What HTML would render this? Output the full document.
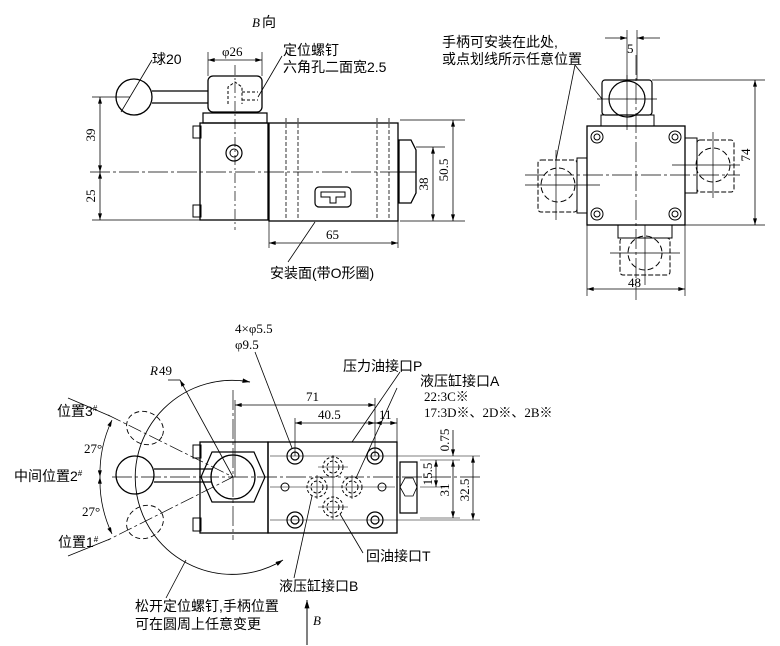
<!DOCTYPE html>
<html><head><meta charset="utf-8"><style>
body{margin:0;background:#fff}
svg{display:block}
text{font-family:"Liberation Serif","Noto Sans CJK SC",serif;font-size:13px;fill:#000}
.c{font-family:"Liberation Sans","Noto Sans CJK SC",sans-serif;font-size:14px}
</style></head><body>
<svg width="780" height="646" viewBox="0 0 780 646" xmlns="http://www.w3.org/2000/svg">
<defs>
<marker id="a" viewBox="0 0 10 6" refX="10" refY="3" markerWidth="9" markerHeight="5" orient="auto-start-reverse"><path d="M0,0 L10,3 L0,6z" fill="#000"/></marker>
</defs>
<g fill="none" stroke="#000" stroke-width="1">
<line x1="90" y1="172" x2="410" y2="172" stroke-dasharray="20,3,3,3" stroke-width="0.8"/>
<circle cx="134" cy="97" r="18" stroke-width="1.3"/>
<line x1="121" y1="112" x2="152" y2="60" stroke-width="0.8"/>
<path d="M152,91 H208 M152,103 H208" stroke-width="1.3"/>
<rect x="208" y="76" width="54" height="36" rx="5" stroke-width="1.3"/>
<line x1="235" y1="65" x2="235" y2="230" stroke-dasharray="10,3,2,3" stroke-width="0.7"/>
<path d="M228,104 V87 L235,82 L242,87 V104 M242,92 H258 M242,100 H258" stroke-dasharray="3,2"/>
<path d="M203,113 H267 V123 H203 Z" stroke-width="1.2"/>
<line x1="208" y1="52" x2="208" y2="76" stroke-width="0.7"/>
<line x1="262" y1="52" x2="262" y2="76" stroke-width="0.7"/>
<line x1="208" y1="60" x2="262" y2="60" marker-start="url(#a)" marker-end="url(#a)" stroke-width="0.8"/>
<line x1="258" y1="97" x2="282" y2="56" stroke-width="0.8"/>
<rect x="200" y="123" width="68" height="97" stroke-width="1.3"/>
<rect x="269" y="123" width="129" height="98" stroke-width="1.3"/>
<rect x="193" y="126" width="8" height="12"/>
<rect x="193" y="205" width="8" height="12"/>
<circle cx="234" cy="153" r="8" stroke-width="1.2"/><circle cx="234" cy="153" r="4"/>
<path d="M399,140 H411 L416,150 V193 L411,203 H399 Z" stroke-width="1.3"/>
<line x1="399" y1="172" x2="416" y2="172"/>
<path d="M286,118 V220 M298,118 V220 M377,118 V220 M389,118 V220" stroke-dasharray="4,2" stroke-width="0.8"/>
<rect x="315" y="187" width="36" height="20" rx="4" stroke-width="1.2"/>
<path d="M321,192 H345 V197 H336 V203 H330 V197 H321 Z"/>
<path d="M92,97 H130 M92,220 H200" stroke-width="0.7"/>
<line x1="100" y1="97" x2="100" y2="172" marker-start="url(#a)" marker-end="url(#a)" stroke-width="0.8"/>
<line x1="100" y1="172" x2="100" y2="220" marker-start="url(#a)" marker-end="url(#a)" stroke-width="0.8"/>
<path d="M400,120 H465 M416,147 H445 M400,221 H465" stroke-width="0.7"/>
<line x1="433" y1="147" x2="433" y2="221" marker-start="url(#a)" marker-end="url(#a)" stroke-width="0.8"/>
<line x1="453" y1="120" x2="453" y2="221" marker-start="url(#a)" marker-end="url(#a)" stroke-width="0.8"/>
<path d="M269,221 V248 M398,221 V248" stroke-width="0.7"/>
<line x1="269" y1="243" x2="398" y2="243" marker-start="url(#a)" marker-end="url(#a)" stroke-width="0.8"/>
<line x1="315" y1="222" x2="288" y2="262" stroke-width="0.8"/>

<line x1="636" y1="55" x2="636" y2="300" stroke-dasharray="20,3,3,3" stroke-width="0.7"/>
<line x1="525" y1="175" x2="740" y2="175" stroke-dasharray="20,3,3,3" stroke-width="0.7"/>
<rect x="602" y="80" width="50" height="35" rx="3" stroke-width="1.2"/>
<circle cx="627" cy="99" r="18" stroke-width="1.2"/>
<path d="M597,99 H657 M627,75 V130" stroke-width="0.7"/>
<path d="M601,115 H654 V126 H601 Z"/>
<rect x="587" y="126" width="98" height="99" stroke-width="1.3"/>
<g stroke-width="1"><circle cx="597" cy="137" r="6"/><circle cx="597" cy="137" r="3"/>
<circle cx="675" cy="137" r="6"/><circle cx="675" cy="137" r="3"/>
<circle cx="597" cy="214" r="6"/><circle cx="597" cy="214" r="3"/>
<circle cx="675" cy="214" r="6"/><circle cx="675" cy="214" r="3"/></g>
<rect x="538" y="160" width="39" height="52" rx="3" stroke-dasharray="5,2"/>
<path d="M577,158 H587 V213 H577 Z"/>
<circle cx="558" cy="185" r="17" stroke-dasharray="6,3"/>
<path d="M525,185 H600 M556,150 V220" stroke-width="0.7"/>
<rect x="697" y="140" width="37" height="52" rx="3" stroke-dasharray="5,2"/>
<path d="M685,138 H697 V193 H685 Z"/>
<circle cx="713" cy="165" r="17" stroke-dasharray="6,3"/>
<path d="M672,165 H740 M713,132 V198" stroke-width="0.7"/>
<path d="M618,225 H672 V238 H618 Z"/>
<rect x="620" y="238" width="50" height="37" rx="3" stroke-dasharray="5,2"/>
<circle cx="645" cy="253" r="17" stroke-dasharray="6,3"/>
<path d="M610,253 H680 M645,225 V285" stroke-width="0.7"/>
<line x1="602" y1="99" x2="575" y2="65" stroke-width="0.8"/>
<line x1="556" y1="160" x2="575" y2="65" stroke-width="0.8"/>
<path d="M627,30 V80 M637,30 V80" stroke-width="0.7"/>
<line x1="605" y1="38" x2="627" y2="38" marker-end="url(#a)" stroke-width="0.8"/>
<line x1="660" y1="38" x2="637" y2="38" marker-end="url(#a)" stroke-width="0.8"/>
<path d="M652,80 H765 M685,225 H765" stroke-width="0.7"/>
<line x1="755" y1="80" x2="755" y2="225" marker-start="url(#a)" marker-end="url(#a)" stroke-width="0.8"/>
<path d="M587,225 V296 M685,225 V296" stroke-width="0.7"/>
<line x1="587" y1="289" x2="685" y2="289" marker-start="url(#a)" marker-end="url(#a)" stroke-width="0.8"/>

<line x1="112" y1="477" x2="480" y2="477" stroke-dasharray="20,3,3,3" stroke-width="0.7"/>
<line x1="233" y1="390" x2="233" y2="540" stroke-dasharray="20,3,3,3" stroke-width="0.7"/>
<rect x="200" y="442" width="68" height="91" stroke-width="1.3"/>
<rect x="268" y="442" width="129" height="91" stroke-width="1.3"/>
<rect x="193" y="445" width="8" height="13"/>
<rect x="193" y="518" width="8" height="13"/>
<path d="M212,452 H254 L265,477 L254,502 H212 L201,477 Z" stroke-width="1.2"/>
<circle cx="233" cy="477" r="22" stroke-width="1.3"/>
<circle cx="135" cy="475" r="19" stroke-width="1.3"/>
<path d="M154,469 H212 M154,482 H212" stroke-width="1.3"/>
<g stroke-dasharray="5,3" stroke-width="0.9">
<ellipse cx="145" cy="428" rx="19" ry="16" transform="rotate(27 145 428)"/>
<ellipse cx="145" cy="522" rx="19" ry="16" transform="rotate(-27 145 522)"/>
</g>
<path d="M108,415 L233,477 L108,540" stroke-width="0.7" stroke-dasharray="14,3,3,3"/>
<path d="M110,416 L68,398 M110,539 L68,556" stroke-width="0.7"/>
<path d="M112,420 A125,125 0 0 0 100,477" marker-start="url(#a)" marker-end="url(#a)" stroke-width="0.8"/>
<path d="M100,477 A125,125 0 0 0 112,534" marker-start="url(#a)" marker-end="url(#a)" stroke-width="0.8"/>
<path d="M250,382 A97,97 0 1 0 283,560" marker-start="url(#a)" marker-end="url(#a)" stroke-width="0.9"/>
<line x1="233" y1="477" x2="180" y2="380" stroke-width="0.8" marker-end="url(#a)"/>
<line x1="180" y1="380" x2="168" y2="380" stroke-width="0.8"/>
<g stroke-width="1.2"><circle cx="295" cy="456" r="8"/><circle cx="295" cy="456" r="4"/>
<circle cx="375" cy="456" r="8"/><circle cx="375" cy="456" r="4"/>
<circle cx="295" cy="520" r="8"/><circle cx="295" cy="520" r="4"/>
<circle cx="375" cy="520" r="8"/><circle cx="375" cy="520" r="4"/></g>
<circle cx="285" cy="487" r="4"/><circle cx="382" cy="487" r="4"/>
<g stroke-dasharray="3,2"><circle cx="333" cy="467" r="10"/><circle cx="333" cy="467" r="6"/>
<circle cx="333" cy="507" r="10"/><circle cx="333" cy="507" r="6"/>
<circle cx="317" cy="487" r="10"/><circle cx="317" cy="487" r="6"/>
<circle cx="352" cy="487" r="10"/><circle cx="352" cy="487" r="6"/></g>
<path d="M270,487 H395 M333,455 V520 M318,467 H348 M318,507 H348 M317,475 V499 M352,475 V499" stroke-width="0.6"/>
<path d="M270,456 H480 M270,520 H480" stroke-width="0.6"/>
<path d="M400,462 H417 V513 H400 Z" stroke-width="1.2"/>
<path d="M400,487 L405,478 H413 L417,487 L413,496 H405 Z" stroke-width="0.8"/>
<line x1="235" y1="400" x2="235" y2="477" stroke-width="0.7"/>
<line x1="235" y1="405" x2="375" y2="405" marker-start="url(#a)" marker-end="url(#a)" stroke-width="0.8"/>
<path d="M295,418 V456 M375,398 V456 M397,418 V442" stroke-width="0.7"/>
<line x1="295" y1="423" x2="375" y2="423" marker-start="url(#a)" marker-end="url(#a)" stroke-width="0.8"/>
<line x1="375" y1="423" x2="397" y2="423" marker-start="url(#a)" marker-end="url(#a)" stroke-width="0.8"/>
<line x1="436" y1="460" x2="436" y2="487" marker-start="url(#a)" marker-end="url(#a)" stroke-width="0.8"/>
<line x1="453" y1="460" x2="453" y2="518" marker-start="url(#a)" marker-end="url(#a)" stroke-width="0.8"/>
<line x1="473" y1="456" x2="473" y2="520" marker-start="url(#a)" marker-end="url(#a)" stroke-width="0.8"/>
<line x1="453" y1="430" x2="453" y2="456" marker-end="url(#a)" stroke-width="0.8"/>
<path d="M420,460 H460 M420,487 H445 M420,518 H460" stroke-width="0.6"/>
<line x1="255" y1="352" x2="292" y2="448" stroke-width="0.8"/>
<line x1="400" y1="372" x2="352" y2="442" stroke-width="0.8"/>
<line x1="397" y1="388" x2="356" y2="478" stroke-width="0.8"/>
<line x1="340" y1="514" x2="363" y2="553" stroke-width="0.8"/>
<line x1="312" y1="496" x2="294" y2="578" stroke-width="0.8"/>
<line x1="186" y1="560" x2="166" y2="598" stroke-width="0.8"/>
<line x1="307" y1="645" x2="307" y2="600" marker-end="url(#a)" stroke-width="1"/>
</g>

<text x="252" y="27" font-style="italic">B</text><text x="262" y="27" class="c">向</text>
<text x="152" y="64" class="c">球20</text>
<text x="222" y="56">φ26</text>
<text x="283" y="55" class="c">定位螺钉</text>
<text x="283" y="72" class="c">六角孔二面宽2.5</text>
<text transform="translate(95,135) rotate(-90)" text-anchor="middle">39</text>
<text transform="translate(95,196) rotate(-90)" text-anchor="middle">25</text>
<text transform="translate(428,184) rotate(-90)" text-anchor="middle">38</text>
<text transform="translate(448,170) rotate(-90)" text-anchor="middle">50.5</text>
<text x="326" y="239">65</text>
<text x="270" y="278" class="c">安装面(带O形圈)</text>
<text x="442" y="47" class="c">手柄可安装在此处,</text>
<text x="442" y="64" class="c">或点划线所示任意位置</text>
<text x="627" y="53">5</text>
<text transform="translate(750,155) rotate(-90)" text-anchor="middle">74</text>
<text x="628" y="287">48</text>
<text x="235" y="333">4×φ5.5</text>
<text x="235" y="349">φ9.5</text>
<text x="150" y="375" font-style="italic">R</text><text x="159" y="375">49</text>
<text x="343" y="371" class="c">压力油接口P</text>
<text x="420" y="386" class="c">液压缸接口A</text>
<text x="424" y="401">22:3C※</text>
<text x="424" y="417">17:3D※、2D※、2B※</text>
<text x="306" y="401">71</text>
<text x="318" y="419">40.5</text>
<text x="379" y="419">11</text>
<text transform="translate(449,440) rotate(-90)" text-anchor="middle">0.75</text>
<text transform="translate(432,474) rotate(-90)" text-anchor="middle">15.5</text>
<text transform="translate(449,490) rotate(-90)" text-anchor="middle">31</text>
<text transform="translate(469,490) rotate(-90)" text-anchor="middle">32.5</text>
<text x="57" y="416" class="c">位置3<tspan font-size="8" dy="-5">#</tspan></text>
<text x="84" y="453">27°</text>
<text x="14" y="481" class="c">中间位置2<tspan font-size="8" dy="-5">#</tspan></text>
<text x="82" y="516">27°</text>
<text x="58" y="547" class="c">位置1<tspan font-size="8" dy="-5">#</tspan></text>
<text x="366" y="561" class="c">回油接口T</text>
<text x="279" y="591" class="c">液压缸接口B</text>
<text x="135" y="611" class="c">松开定位螺钉,手柄位置</text>
<text x="135" y="629" class="c">可在圆周上任意变更</text>
<text x="313" y="625" font-style="italic">B</text>
</svg>
</body></html>
